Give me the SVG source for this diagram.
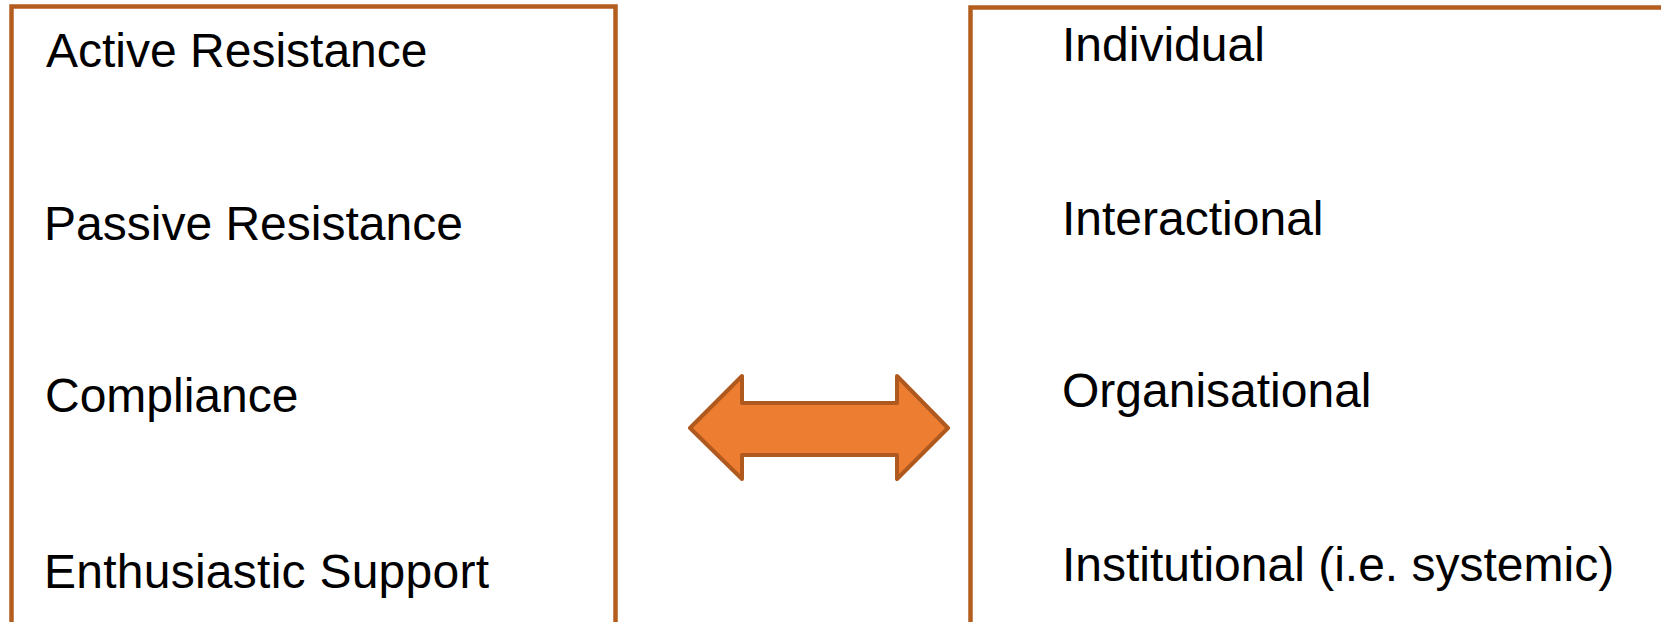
<svg xmlns="http://www.w3.org/2000/svg" width="1661" height="622" viewBox="0 0 1661 622">
<style>
.box{fill:#ffffff;stroke:#b35e1f;stroke-width:4.5}
.lbl{font-family:"Liberation Sans",Arial,sans-serif;font-size:48px;fill:#000000}
.arrow{fill:#ed7d31;stroke:#b0591f;stroke-width:4;stroke-linejoin:round}
</style>
<rect width="1661" height="622" fill="#ffffff"/>
<g id="left-box">
<rect class="box" x="11.5" y="6.5" width="604" height="640"/>
<text class="lbl" x="46" y="67">Active Resistance</text>
<text class="lbl" x="44" y="240">Passive Resistance</text>
<text class="lbl" x="45" y="412">Compliance</text>
<text class="lbl" x="44" y="588" textLength="445" lengthAdjust="spacing">Enthusiastic Support</text>
</g>
<g id="right-box">
<rect class="box" x="970.5" y="7.5" width="740" height="640"/>
<text class="lbl" x="1062" y="61">Individual</text>
<text class="lbl" x="1062" y="235">Interactional</text>
<text class="lbl" x="1062" y="407">Organisational</text>
<text class="lbl" x="1062" y="581">Institutional (i.e. systemic)</text>
</g>
<g id="connectors">
<polygon class="arrow" points="690,428 742,376 742,403 897,403 897,376 948,428 897,479 897,455 742,455 742,479"/>
</g>
</svg>
